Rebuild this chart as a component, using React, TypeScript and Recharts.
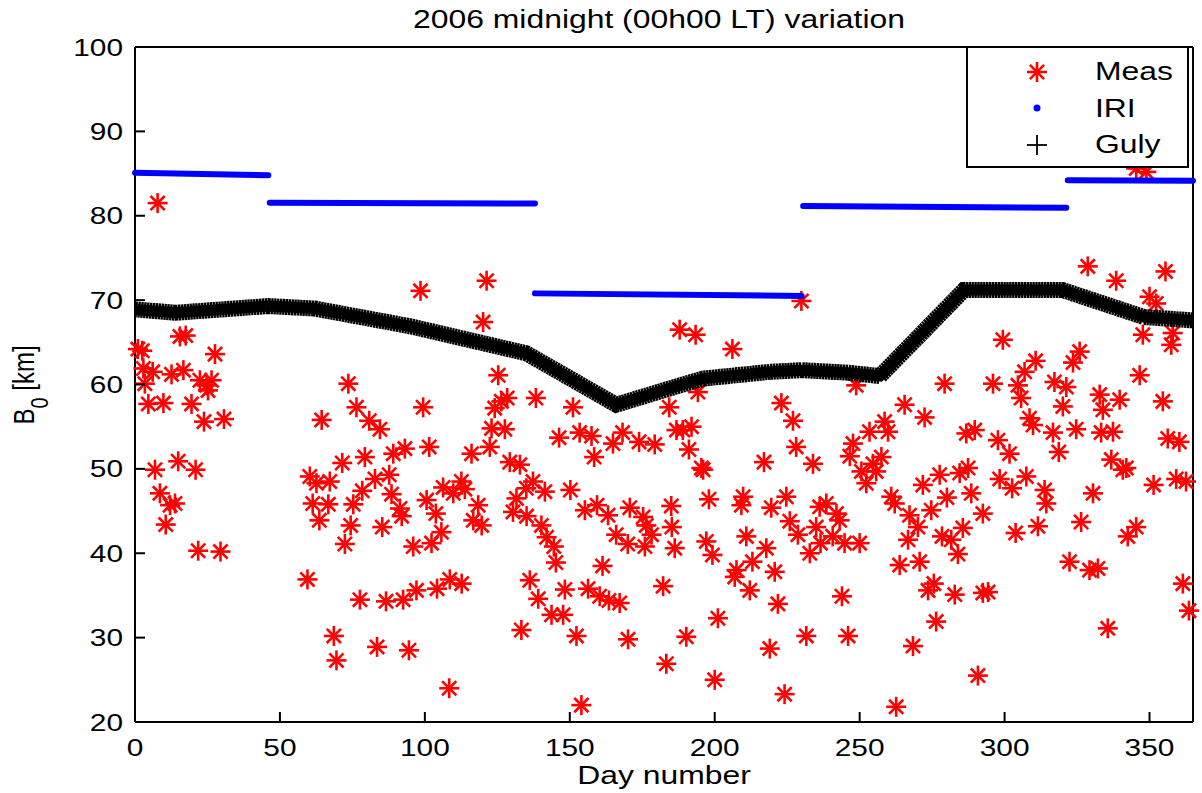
import React from "react";
import { ScatterChart, Scatter, XAxis, YAxis } from "recharts";

const X_TICKS = [0, 50, 100, 150, 200, 250, 300, 350];
const Y_TICKS = [20, 30, 40, 50, 60, 70, 80, 90, 100];

// measured B0, [day, km]
const MEAS_POINTS: [number, number][] = [
  [1, 64.2], [2.5, 64.0], [2.9, 61.9], [3.4, 60.1], [4.6, 57.7], [6.1, 61.5], [6.9, 49.9],
  [7.8, 81.5], [8.6, 47.1], [9.8, 57.8], [10.6, 43.4], [12.1, 45.7], [12.6, 61.2], [13.8, 45.9],
  [14.9, 50.9], [15.5, 65.7], [16.7, 61.7], [17.5, 65.8], [19.5, 57.7], [20.9, 49.9], [21.8, 40.3],
  [22.4, 60.5], [23.8, 55.6], [24.7, 59.9], [25.2, 59.3], [26.4, 60.5], [27.6, 63.6], [29.5, 40.2],
  [30.7, 55.9],
  [59.5, 36.9], [60.3, 49.1], [61.3, 45.9], [62.6, 48.3], [63.6, 43.9], [64.4, 55.8], [66.7, 45.8],
  [67.2, 48.5], [68.6, 30.2], [69.5, 27.3], [71.5, 50.7], [72.4, 41.1], [73.6, 60.1], [74.4, 43.3],
  [75.3, 45.8], [76.4, 57.3], [77.6, 34.5], [78.4, 47.4], [79.3, 51.4], [80.8, 55.7], [82.8, 48.8],
  [83.5, 28.9], [84.5, 54.7], [85.3, 43.1], [86.6, 34.3], [87.7, 49.3], [88.5, 47.0], [89.1, 51.8],
  [91.4, 45.3], [92.0, 44.4], [92.5, 34.5], [93.1, 52.4], [94.5, 28.5],
  [96, 40.8], [97.1, 35.6], [98.5, 71.1], [99.4, 57.3], [100.6, 46.3], [101.5, 52.6], [102.3, 41.2],
  [103.8, 44.7], [104.2, 35.8], [105.7, 42.5], [106.3, 47.8], [108.4, 24.0], [108.6, 36.9],
  [109.8, 47.1], [112.6, 48.5], [112.7, 36.4], [113.8, 47.6], [116.1, 51.8], [116.7, 43.9],
  [118.4, 45.7], [119.6, 43.3], [120.1, 67.4], [121.3, 72.3], [122.4, 52.6], [123, 54.8],
  [124.1, 57.2], [125.3, 61.1], [126.4, 58.0], [127.6, 54.7], [128.4, 58.4], [129.3, 50.8],
  [130.4, 44.9], [131.6, 46.5], [132.8, 50.5], [133.3, 30.9], [135, 47.7], [135.1, 44.4],
  [136.2, 36.8], [137.3, 48.5], [138.3, 58.4], [139.1, 34.6], [140.2, 43.3], [141.4, 47.3],
  [142, 41.9], [143.7, 32.7], [144.5, 40.8], [145.2, 38.9], [146.3, 53.7], [147.7, 32.7],
  [148.3, 35.7], [150.2, 47.5], [151.1, 57.3], [152.3, 30.2], [153.4, 54.3], [154, 22.0],
  [155.2, 45.1], [156.3, 35.8], [157.5, 53.9], [158.4, 51.4], [159.4, 45.7], [160.3, 34.9],
  [161.3, 38.5], [163.2, 44.5], [163.5, 34.4], [164.9, 53.0], [166, 42.2], [167.2, 34.1],
  [168.2, 54.3], [170, 41.1], [170.1, 29.8], [170.7, 45.4], [173.9, 53.2], [175.3, 44.3],
  [175.9, 40.8], [176.4, 43.3], [178.2, 42.2], [179.3, 52.9], [182.2, 36.1], [183.3, 26.9],
  [184.3, 57.3], [185, 45.6], [185.2, 43.1], [186.2, 40.6], [186.8, 54.6],
  [187.9, 66.5], [189, 54.6], [190.2, 30.1], [191.1, 52.3], [192, 55.0], [193.4, 65.9],
  [194.2, 59.1], [195.4, 50.1], [196, 49.9], [197.1, 41.4], [198, 46.4], [199.2, 39.8],
  [200, 25.0], [201.1, 32.3], [206.1, 64.2], [206.9, 37.2], [207.5, 38.0], [209.2, 45.7],
  [209.8, 46.7], [210.9, 42.0], [212.1, 35.6], [213, 39.0], [217, 50.8], [217.8, 40.6],
  [219, 28.7], [219.5, 45.4], [220.7, 37.8], [221.8, 34.0], [223, 57.8], [224.1, 23.3],
  [224.7, 46.7], [225.9, 43.8], [227, 55.7], [228.1, 52.6], [228.7, 42.2], [229.9, 69.9],
  [231.6, 30.2], [232.8, 40.0], [233.9, 50.6], [235, 43.1], [236.2, 45.5], [236.5, 41.2],
  [238.5, 45.9], [240.7, 42.0], [242, 44.7], [243.1, 43.9], [243.9, 34.9], [244.8, 41.2],
  [246, 30.2], [246.6, 51.5], [247.7, 53.0], [248.8, 59.9], [250, 41.2], [250.6, 49.7],
  [252.3, 48.3], [253.4, 54.4], [254.6, 50.6], [255.7, 49.7], [257.5, 51.4], [258.6, 55.6],
  [259.8, 54.4], [260.9, 46.7], [262.1, 45.9], [262.6, 21.8], [263.8, 38.6], [265.5, 57.6],
  [266.7, 41.6], [267.2, 44.5], [268.4, 29.0], [270.1, 43.1], [270.7, 39.0], [271.8, 48.1],
  [272.4, 56.1], [273.6, 35.6], [274.7, 45.1], [275.6, 36.4], [276.4, 31.9], [277.6, 49.3],
  [278.4, 42.0], [279.3, 60.1], [280.1, 46.6],
  [281.6, 41.6], [282.8, 35.1], [283.9, 39.9], [284.5, 49.5], [285.6, 43.0], [286.8, 54.2],
  [287.4, 50.1], [288.5, 47.1], [289.7, 54.6], [290.8, 25.5], [292.5, 44.7], [292.5, 35.3],
  [294.3, 35.4], [296, 60.1], [297.7, 53.4], [298.3, 48.8], [299.4, 65.3], [301.7, 51.8],
  [302.6, 47.7], [303.8, 42.4], [304.6, 59.9], [305.7, 58.4], [306.9, 61.5], [307.5, 49.1],
  [308.6, 56.0], [309.8, 55.2], [310.7, 62.8], [311.5, 43.2], [313.8, 47.5], [314.4, 45.9],
  [316.7, 54.3], [317.2, 60.3], [318.7, 52.0], [320.1, 57.4], [321.3, 59.7], [322.4, 39.0],
  [323.6, 62.6], [324.7, 54.7], [325.9, 63.9], [326.4, 43.7], [328.7, 74.0], [329.3, 38.0],
  [330.5, 47.1], [332.2, 38.2], [332.8, 58.8], [333.3, 54.3], [333.9, 57.0], [335.6, 31.1],
  [336.8, 51.1], [337.4, 54.4], [338.5, 72.3], [339.7, 58.2], [340.8, 49.9], [342, 50.1],
  [342.5, 42.0], [345.4, 43.1], [345.4, 85.6], [346.6, 61.1], [347.7, 65.9], [348.9, 85.2],
  [350, 70.4], [351.4, 48.1], [352.3, 69.6], [354.6, 58.0], [355.5, 73.4], [356.3, 53.6],
  [357.5, 64.7], [358, 66.1], [359.2, 48.8], [360.3, 53.2], [361.5, 36.4], [362.6, 48.5],
  [363.6, 33.2],
];

// IRI model, one flat run per season: [day, km] at each end
const IRI_SEGMENTS: [number, number][][] = [
  [[0, 85.1], [46, 84.8]],
  [[46.5, 81.55], [138, 81.45]],
  [[138, 70.8], [230, 70.5]],
  [[230.5, 81.15], [321.3, 80.95]],
  [[321.8, 84.2], [365, 84.15]],
];

// Gulyaeva model, breakpoints of the curve
const GULY_DAYS = [0, 14, 46, 62, 95, 135, 166, 188, 196, 219, 230, 246, 257, 286, 320, 348, 365];
const GULY_B0 = [68.9, 68.5, 69.3, 69.0, 66.9, 63.7, 57.6, 59.9, 60.7, 61.5, 61.7, 61.4, 61.0, 71.2, 71.2, 68.0, 67.6];

const FONT = '"Liberation Sans", Arial, Helvetica, sans-serif';
const STRETCH = 1.27;
const TM = 6; // tick margin

const measRows = MEAS_POINTS.map(([d, v]) => ({ d, v }));
const iriRows = IRI_SEGMENTS.map((seg) => seg.map(([d, v]) => ({ d, v })));
const gulyRows = GULY_DAYS.map((d, i) => ({ d, v: GULY_B0[i] }));

function Asterisk({ cx, cy, r = 10, stroke = "#ff0000" }: any) {
  if (cx == null || cy == null) return <g />;
  const q = r * 0.71;
  return (
    <g stroke={stroke} strokeWidth={2.6}>
      <line x1={cx - r} y1={cy} x2={cx + r} y2={cy} />
      <line x1={cx} y1={cy - r} x2={cx} y2={cy + r} />
      <line x1={cx - q} y1={cy - q} x2={cx + q} y2={cy + q} />
      <line x1={cx - q} y1={cy + q} x2={cx + q} y2={cy - q} />
    </g>
  );
}

const noMarker = () => <g />;

function BottomTick({ x, y, payload }: any) {
  const axisY = y - TM;
  return (
    <g>
      <line x1={x} y1={axisY} x2={x} y2={axisY - 10} stroke="#000" strokeWidth={2} />
      <text
        transform={`translate(${x},${axisY + 34}) scale(${STRETCH},1)`}
        textAnchor="middle"
        fontFamily={FONT}
        fontSize={23.5}
        fill="#000"
      >
        {payload.value}
      </text>
    </g>
  );
}

function TopTick({ x, y }: any) {
  const axisY = y + TM;
  return <line x1={x} y1={axisY} x2={x} y2={axisY + 10} stroke="#000" strokeWidth={2} />;
}

function LeftTick({ x, y, payload }: any) {
  const axisX = x + TM;
  return (
    <g>
      <line x1={axisX} y1={y} x2={axisX + 10} y2={y} stroke="#000" strokeWidth={2} />
      <text
        transform={`translate(${axisX - 12},${y + 8.5}) scale(${STRETCH},1)`}
        textAnchor="end"
        fontFamily={FONT}
        fontSize={23.5}
        fill="#000"
      >
        {payload.value}
      </text>
    </g>
  );
}

function RightTick({ x, y }: any) {
  const axisX = x - TM;
  return <line x1={axisX} y1={y} x2={axisX - 10} y2={y} stroke="#000" strokeWidth={2} />;
}

const axisLine = { stroke: "#000", strokeWidth: 2 };

function Overlay() {
  const txt = { fontFamily: FONT, fill: "#000" };
  return (
    <svg width={1202} height={793} style={{ position: "absolute", left: 0, top: 0, pointerEvents: "none" }}>
      <text transform={`translate(659,28) scale(1.25,1)`} textAnchor="middle" fontSize={25.5} {...txt}>
        2006 midnight (00h00 LT) variation
      </text>
      <text transform={`translate(664,784) scale(1.25,1)`} textAnchor="middle" fontSize={25.5} {...txt}>
        Day number
      </text>
      <text transform={`translate(34,385) rotate(-90) scale(1,1.2)`} textAnchor="middle" fontSize={24} {...txt}>
        B
        <tspan fontSize={20} dy={12}>0</tspan>
        <tspan dy={-12}> [km]</tspan>
      </text>
      <rect x={967} y={47} width={221} height={120} fill="#fff" stroke="#000" strokeWidth={2} />
      <Asterisk cx={1037} cy={72} />
      <circle cx={1037} cy={108} r={3.5} fill="#0000ff" />
      <g stroke="#000" strokeWidth={1.8}>
        <line x1={1027} y1={145} x2={1047} y2={145} />
        <line x1={1037} y1={135} x2={1037} y2={155} />
      </g>
      <text transform={`translate(1095,80) scale(1.25,1)`} fontSize={25.5} {...txt}>Meas</text>
      <text transform={`translate(1095,117) scale(1.25,1)`} fontSize={25.5} {...txt}>IRI</text>
      <text transform={`translate(1095,153) scale(1.25,1)`} fontSize={25.5} {...txt}>Guly</text>
    </svg>
  );
}

export default function App() {
  return (
    <div style={{ position: "absolute", left: 0, top: 0, width: 1202, height: 793, background: "#fff" }}>
      <ScatterChart width={1202} height={793} margin={{ top: 46, right: 0, bottom: 31, left: 75 }}>
        <XAxis
          dataKey="d"
          type="number"
          domain={[0, 365]}
          ticks={X_TICKS}
          interval={0}
          height={40}
          tickSize={0}
          tickMargin={TM}
          tickLine={false}
          tick={<BottomTick />}
          axisLine={axisLine}
        />
        <XAxis
          xAxisId="top"
          orientation="top"
          type="number"
          domain={[0, 365]}
          ticks={X_TICKS}
          interval={0}
          height={1}
          tickSize={0}
          tickMargin={TM}
          tickLine={false}
          tick={<TopTick />}
          axisLine={axisLine}
        />
        <YAxis
          dataKey="v"
          type="number"
          domain={[20, 100]}
          ticks={Y_TICKS}
          interval={0}
          width={60}
          tickSize={0}
          tickMargin={TM}
          tickLine={false}
          tick={<LeftTick />}
          axisLine={axisLine}
        />
        <YAxis
          yAxisId="right"
          orientation="right"
          type="number"
          domain={[20, 100]}
          ticks={Y_TICKS}
          interval={0}
          width={9}
          tickSize={0}
          tickMargin={TM}
          tickLine={false}
          tick={<RightTick />}
          axisLine={axisLine}
        />
        <Scatter data={measRows} shape={<Asterisk />} isAnimationActive={false} />
        {iriRows.map((seg, i) => (
          <Scatter
            key={`iri-${i}`}
            data={seg}
            shape={noMarker}
            line={{ stroke: "#0000ff", strokeWidth: 6, strokeLinecap: "round" }}
            isAnimationActive={false}
          />
        ))}
        <Scatter
          data={gulyRows}
          shape={noMarker}
          line={{ stroke: "#000", strokeWidth: 16, strokeDasharray: "2.4 0.5" }}
          isAnimationActive={false}
        />
        <Scatter
          data={gulyRows}
          shape={noMarker}
          line={{ stroke: "#000", strokeWidth: 11 }}
          isAnimationActive={false}
        />
      </ScatterChart>
      <Overlay />
    </div>
  );
}
